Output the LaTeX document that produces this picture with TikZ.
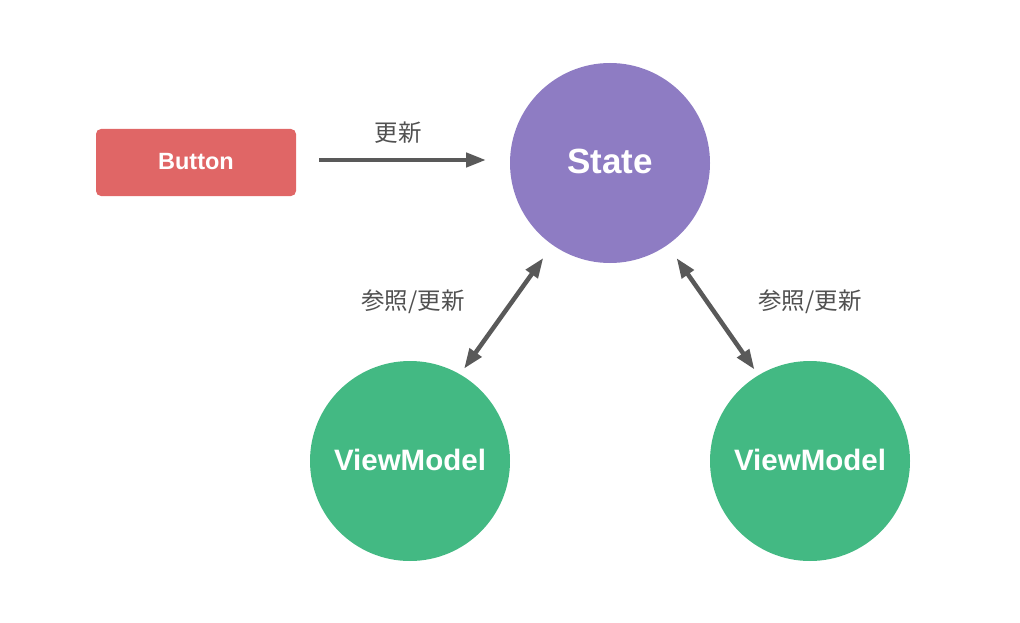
\documentclass[tikz,border=0pt]{standalone}
\usepackage{fontspec}
\setmainfont{Liberation Sans}
\newfontfamily\cjk{Noto Sans CJK JP}
\usetikzlibrary{arrows.meta}
\definecolor{btnred}{RGB}{224,102,102}
\definecolor{statepurple}{RGB}{142,124,195}
\definecolor{vmgreen}{RGB}{67,185,131}
\definecolor{arrowgray}{RGB}{89,89,89}
\definecolor{labelgray}{RGB}{80,80,80}
\tikzset{
  every node/.style={inner sep=0pt, outer sep=0pt},
  boxnode/.style={fill=btnred, rounded corners=5pt, minimum width=200pt, minimum height=67pt, text=white, font=\fontsize{23.5}{24}\selectfont\bfseries},
  circnode/.style={circle, minimum size=200pt, text=white, font=\fontsize{29.5}{30}\selectfont\bfseries},
  statenode/.style={circnode, fill=statepurple, font=\fontsize{35}{35}\selectfont\bfseries},
  vmnode/.style={circnode, fill=vmgreen},
  conn/.style={draw=arrowgray, line width=4.5pt, -{Triangle[length=20pt,width=14pt]}},
  dconn/.style={draw=arrowgray, line width=4.5pt, {Triangle[length=20pt,width=14pt]}-{Triangle[length=20pt,width=14pt]}},
  lbl/.style={text=labelgray, font=\cjk\fontsize{23.5}{24}\selectfont}
}
\begin{document}
\begin{tikzpicture}[x=1pt, y=-1pt]
\useasboundingbox (0,0) rectangle (1020,623);
\node[boxnode] (button) at (196,162.5) {\raisebox{1.5pt}{Button}};
\node[statenode] (state) at (610,163) {\raisebox{3pt}{State}};
\node[vmnode] (vml) at (410,461) {\raisebox{2pt}{ViewModel}};
\node[vmnode] (vmr) at (810,461) {\raisebox{2pt}{ViewModel}};
\draw[conn, shorten <=23pt, shorten >=24pt] ([yshift=2.5pt]button.east) -- ([yshift=2.5pt]button.east -| state.west);
\draw[dconn, shorten <=16pt, shorten >=7pt] (state.235) -- (vml.60);
\draw[dconn, shorten <=16pt, shorten >=7pt] (state.305) -- (vmr.121);
\node[lbl] (l1) at (398,133) {更新};
\node[lbl] (l2) at (413,302) {参照/更新};
\node[lbl] (l3) at (810,302) {参照/更新};
\end{tikzpicture}
\end{document}
